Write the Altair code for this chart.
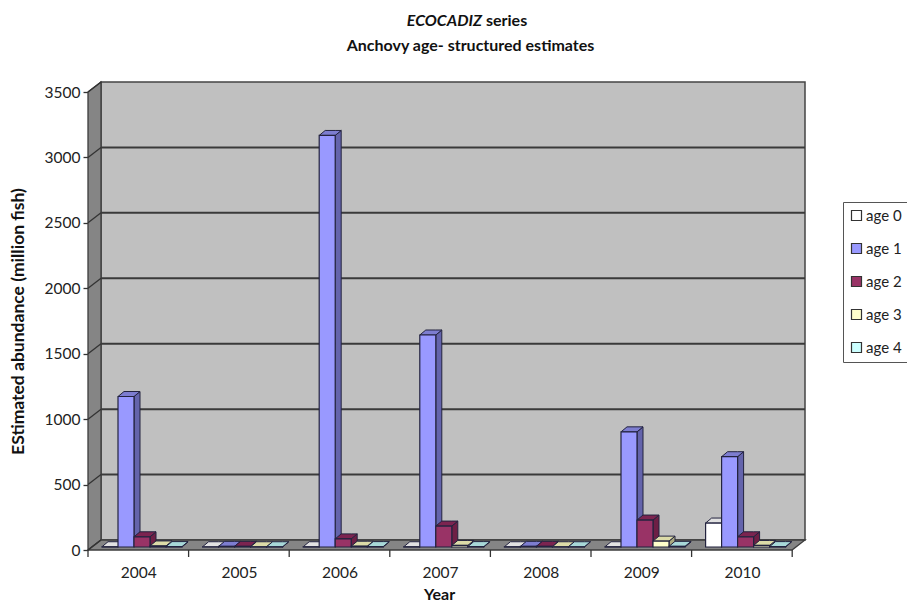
import altair as alt
import pandas as pd

years = [2004, 2005, 2006, 2007, 2008, 2009, 2010]
ages = ["age 0", "age 1", "age 2", "age 3", "age 4"]
age0 = [2, 2, 2, 2, 2, 2, 183]
age1 = [1150, 5, 3145, 1620, 5, 880, 690]
age2 = [78, 5, 62, 160, 5, 206, 78]
age3 = [8, 2, 6, 12, 2, 45, 12]
age4 = [3, 2, 3, 3, 2, 5, 3]
series = [age0, age1, age2, age3, age4]
ticks = [0, 500, 1000, 1500, 2000, 2500, 3000, 3500]

front = ["#ffffff", "#9999ff", "#993366", "#ffffcc", "#ccffff"]
side = ["#b5b5b5", "#6464ac", "#6e1f45", "#aaa97f", "#86adad"]
top = ["#e2e2e2", "#7d7dd0", "#7c2450", "#dcdba8", "#a8d8d8"]

FONT = "Lato"
PX = 1 / 100.6            # x units per pixel
VY = 3500 / 458           # y units per pixel
W, H = 717, 468
WALL_X, WALL_Y = 13 * PX, 10 * VY
XMAX, YMAX = W * PX, H * VY
BAR_W, DEP_X, DEP_Y = 16 * PX, 6 * PX, 5 * VY
BASE_X, BASE_Y = 14 * PX, 3 * VY

bars, faces = [], []
for j, (age, vals) in enumerate(zip(ages, series)):
    for i, (yr, v) in enumerate(zip(years, vals)):
        a = i + BASE_X + j * BAR_W
        b = a + BAR_W
        t = v + BASE_Y
        bars.append(dict(age=age, a=a, b=b, t=t, y0=BASE_Y))
        fid = f"{yr}-{j}"
        faces += [
            dict(id="s" + fid, kind="side", j=j, x=b, y=t, y2=BASE_Y),
            dict(id="s" + fid, kind="side", j=j, x=b + DEP_X, y=t + DEP_Y, y2=BASE_Y + DEP_Y),
        ]
        faces += [
            dict(id="t" + fid, kind="top", j=j, x=a, y=t, y2=t),
            dict(id="t" + fid, kind="top", j=j, x=a + DEP_X, y=t + DEP_Y, y2=t),
            dict(id="t" + fid, kind="top", j=j, x=b, y=t + DEP_Y, y2=t),
            dict(id="t" + fid, kind="top", j=j, x=b + DEP_X, y=t + DEP_Y, y2=t + DEP_Y),
        ]
bars = pd.DataFrame(bars)
faces = pd.DataFrame(faces)

year_labels = "[" + ",".join(str(y) for y in years) + "][floor(datum.value)]"
xaxis = alt.Axis(values=[i + 0.5 for i in range(7)], labelExpr=year_labels, ticks=False,
                 domain=False, grid=False, labelPadding=15, labelFont=FONT, labelFontSize=15.5,
                 labelColor="#222222", title="Year", titleFont=FONT, titleFontSize=16,
                 titleFontWeight="bold", titleColor="#111111", titleX=351, titleY=36,
                 labelFlush=False, labelOverlap=False, orient="bottom")
yaxis = alt.Axis(values=ticks, format="d", title="EStimated abundance (million fish)", grid=False, domain=False,
                 tickSize=5, tickColor="#333333", tickWidth=1.3,
                 labelFont=FONT, labelFontSize=15.5, labelColor="#222222", labelPadding=3,
                 titleFont=FONT, titleFontSize=17.5, titleFontWeight="bold", titleColor="#111111",
                 titleX=-61, titleY=239, orient="left")
xs = alt.Scale(domain=[0, XMAX], nice=False, zero=False)
ys = alt.Scale(domain=[0, YMAX], nice=False, zero=False)
X = lambda f: alt.X(f, scale=xs, axis=xaxis)
Y = lambda f: alt.Y(f, scale=ys, axis=yaxis, stack=False)

wall = alt.Chart(pd.DataFrame([dict(x=WALL_X, x2=XMAX, y=WALL_Y, y2=YMAX)])).mark_rect(
    fill="#c0c0c0", stroke="#444444", strokeWidth=1.5
).encode(x=X("x:Q"), x2="x2:Q", y=Y("y:Q"), y2="y2:Q")

xticks = alt.Chart(pd.DataFrame(dict(x=list(range(8))))).mark_rule(color="#333333", strokeWidth=1.3).encode(
    x=X("x:Q"), y=alt.value(H), y2=alt.value(H + 7))

left = pd.DataFrame([dict(x=0, y=3500, y2=0), dict(x=WALL_X, y=YMAX, y2=WALL_Y)])
floor = pd.DataFrame([
    dict(x=0, y=0, y2=0), dict(x=WALL_X, y=WALL_Y, y2=0),
    dict(x=XMAX - WALL_X, y=WALL_Y, y2=0), dict(x=XMAX, y=WALL_Y, y2=WALL_Y),
])
def slab(df):
    return alt.Chart(df).mark_area(fill="#858585", stroke="#3c3c3c", strokeWidth=1.3, opacity=1).encode(
        x=X("x:Q"), y=Y("y:Q"), y2="y2:Q")

grid = alt.Chart(pd.DataFrame(dict(v=[t + WALL_Y for t in ticks[1:-1]]))).mark_rule(
    color="#3a3a3a", strokeWidth=2
).encode(y=Y("v:Q"), x=alt.value(WALL_X / PX), x2=alt.value(W))

sl = []
for t in ticks:
    sl += [dict(t=t, x=0, y=t), dict(t=t, x=WALL_X, y=t + WALL_Y)]
slant = alt.Chart(pd.DataFrame(sl)).mark_line(color="#333333", strokeWidth=1.3).encode(
    x=X("x:Q"), y=Y("y:Q"), detail="t:N")

def face_layers(kind, colours):
    return [
        alt.Chart(faces[(faces.kind == kind) & (faces.j == j)]).mark_area(
            fill=c, stroke="#23233f", strokeWidth=1, opacity=1
        ).encode(x=X("x:Q"), y=Y("y:Q"), y2="y2:Q", detail="id:N")
        for j, c in enumerate(colours)
    ]

fronts = alt.Chart(bars).mark_bar(stroke="#23233f", strokeWidth=1.2, opacity=1).encode(
    x=X("a:Q"), x2="b:Q",
    y=Y("t:Q"), y2="y0:Q",
    fill=alt.Fill("age:N", scale=alt.Scale(domain=ages, range=front), legend=alt.Legend(
        title=None, orient="none", legendX=755, legendY=120, symbolType="square", symbolSize=100,
        symbolStrokeColor="#333333", symbolStrokeWidth=1.2, symbolOpacity=1,
        labelFont=FONT, labelFontSize=15, labelColor="#222222", labelOffset=2,
        rowPadding=17, padding=6, strokeColor="#555555", fillColor="#ffffff",
    )),
)

head1 = alt.Chart(pd.DataFrame(dict(s=["ECOCADIZ"]))).mark_text(
    font=FONT, fontSize=16, fontWeight="bold", fontStyle="italic", align="right", color="#111111"
).encode(text="s:N", x=alt.value(394), y=alt.value(-61))
head2 = alt.Chart(pd.DataFrame(dict(s=["series"]))).mark_text(
    font=FONT, fontSize=16, fontWeight="bold", align="left", color="#111111"
).encode(text="s:N", x=alt.value(398), y=alt.value(-61))

chart = alt.layer(
    wall, grid, slab(left), slab(floor), slant, xticks,
    *face_layers("side", side), *face_layers("top", top), fronts, head1, head2,
).properties(
    width=W, height=H,
    title=alt.TitleParams("Anchovy age- structured estimates", font=FONT, fontSize=16, fontWeight="bold",
                          color="#111111", anchor="middle", dx=24, offset=-41),
    autosize=alt.AutoSizeParams(type="none"),
    padding={"left": 80, "top": 74, "right": 102, "bottom": 56},
).configure_view(stroke=None)

chart.save("out.html", embed_options={"renderer": "svg", "actions": False})
